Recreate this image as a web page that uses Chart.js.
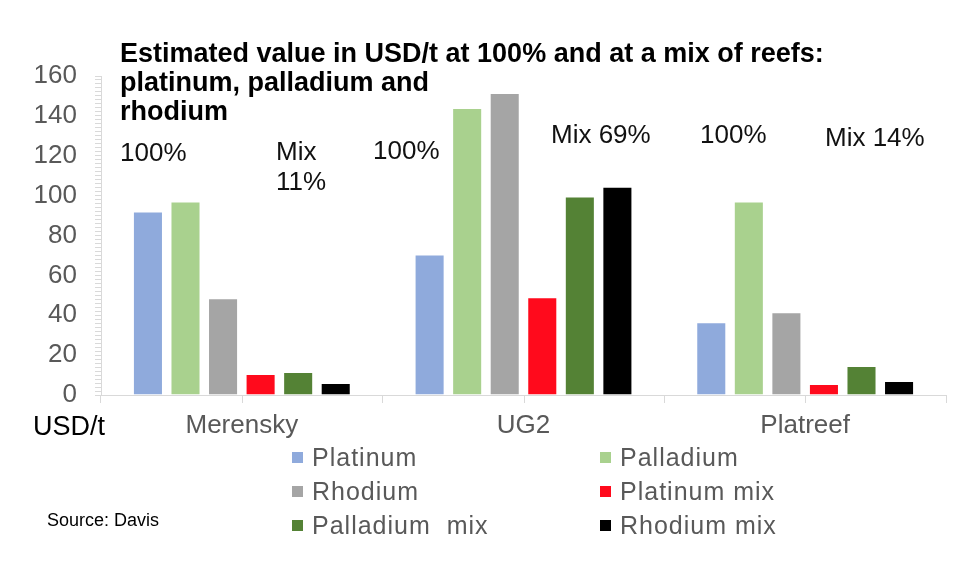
<!DOCTYPE html>
<html>
<head>
<meta charset="utf-8">
<script src="https://cdn.jsdelivr.net/npm/chart.js@4.4.1/dist/chart.umd.min.js"></script>
<style>
  body { margin: 0; background: #fff; font-family: "Liberation Sans", Arial, sans-serif; }
  #wrap { position: relative; width: 970px; height: 584px; }
  canvas { position: absolute; left: 0; top: 0; }
  .txt { position: absolute; white-space: nowrap; color: #111; font-size: 26px; line-height: 1; }
  .title { font-weight: bold; font-size: 27px; line-height: 29px; color: #000; }
  #legend { position: absolute; left: 292px; top: 444px; display: grid; grid-template-columns: 308px 300px; row-gap: 8px; }
  .item { display: flex; align-items: center; font-size: 25px; letter-spacing: 1px; color: #595959; line-height: 26px; white-space: pre; }
  .box { width: 11px; height: 11px; margin-right: 9px; }
</style>
</head>
<body>
<div id="wrap">
  <canvas id="chart" width="970" height="584"></canvas>
  <div class="txt title" style="left:120px; top:39px;">Estimated value in USD/t at 100% and at a mix of reefs:<br>platinum, palladium and<br>rhodium</div>
  <div class="txt" style="left:120px; top:139px;">100%</div>
  <div class="txt" style="left:276px; top:136px; line-height:30px;">Mix<br>11%</div>
  <div class="txt" style="left:373px; top:137px;">100%</div>
  <div class="txt" style="left:551px; top:121px;">Mix 69%</div>
  <div class="txt" style="left:700px; top:121px;">100%</div>
  <div class="txt" style="left:825px; top:124px;">Mix 14%</div>
  <div class="txt" style="left:33px; top:413px; color:#000; font-size:27px;">USD/t</div>
  <div class="txt" style="left:47px; top:511px; font-size:18px; color:#000;">Source: Davis</div>
  <div id="legend"></div>
</div>
<script>
// reefs and estimated values (USD/t)
const reefs = ['Merensky', 'UG2', 'Platreef'];
const seriesNames = ['Platinum', 'Palladium', 'Rhodium', 'Platinum mix', 'Palladium  mix', 'Rhodium mix'];
const seriesColors = ['#8FAADC', '#A9D18E', '#A5A5A5', '#FF0A1C', '#548235', '#000000'];

const platinum = [92, 70.5, 36.5];
const palladium = [97, 144, 97];
const rhodium = [48.5, 151.5, 41.5];
const platinumMix = [10.5, 49, 5.5];
const palladiumMix = [11.5, 99.5, 14.5];
const rhodiumMix = [6, 104.5, 7];

const seriesValues = [platinum, palladium, rhodium, platinumMix, palladiumMix, rhodiumMix];

const datasets = seriesNames.map((name, i) => ({
  label: name,
  data: seriesValues[i],
  backgroundColor: seriesColors[i],
  borderColor: 'rgba(255,255,255,0.7)',
  borderWidth: 1,
  categoryPercentage: 0.8,
  barPercentage: 0.8
}));

// html legend, two columns
document.getElementById('legend').innerHTML = seriesNames.map((name, i) =>
  `<div class="item"><span class="box" style="background:${seriesColors[i]}"></span>${name}</div>`
).join('');

// small ticks at category centres, under the axis line
const centreTicks = {
  id: 'centreTicks',
  afterDraw(chart) {
    const x = chart.scales.x;
    const ctx = chart.ctx;
    ctx.save();
    ctx.strokeStyle = '#d9d9d9';
    ctx.lineWidth = 1;
    reefs.forEach((r, i) => {
      const px = Math.round(x.getPixelForValue(i)) + 0.5;
      ctx.beginPath();
      ctx.moveTo(px, x.top);
      ctx.lineTo(px, x.top + 8);
      ctx.stroke();
    });
    ctx.restore();
  }
};

new Chart(document.getElementById('chart'), {
  type: 'bar',
  data: { labels: reefs, datasets },
  options: {
    responsive: false,
    animation: false,
    layout: { padding: { top: 76, right: 24, left: 0, bottom: 0 } },
    plugins: { legend: { display: false }, title: { display: false }, tooltip: { enabled: false } },
    scales: {
      x: {
        grid: { offset: true, drawOnChartArea: false, color: '#d9d9d9', tickLength: 8 },
        border: { color: '#d9d9d9' },
        ticks: { color: '#595959', font: { size: 26, family: 'Liberation Sans' }, padding: 7 },
        afterFit(scale) { scale.height = 189; }
      },
      y: {
        min: 0,
        max: 160,
        grid: { drawOnChartArea: false, color: '#d9d9d9', tickLength: 6 },
        border: { color: '#d9d9d9' },
        ticks: {
          stepSize: 2,
          autoSkip: false,
          color: '#595959',
          font: { size: 26, family: 'Liberation Sans' },
          padding: 18,
          callback: v => (v % 20 === 0 ? v : '')
        },
        afterFit(scale) { scale.width = 101; }
      }
    }
  },
  plugins: [centreTicks]
});
</script>
</body>
</html>
